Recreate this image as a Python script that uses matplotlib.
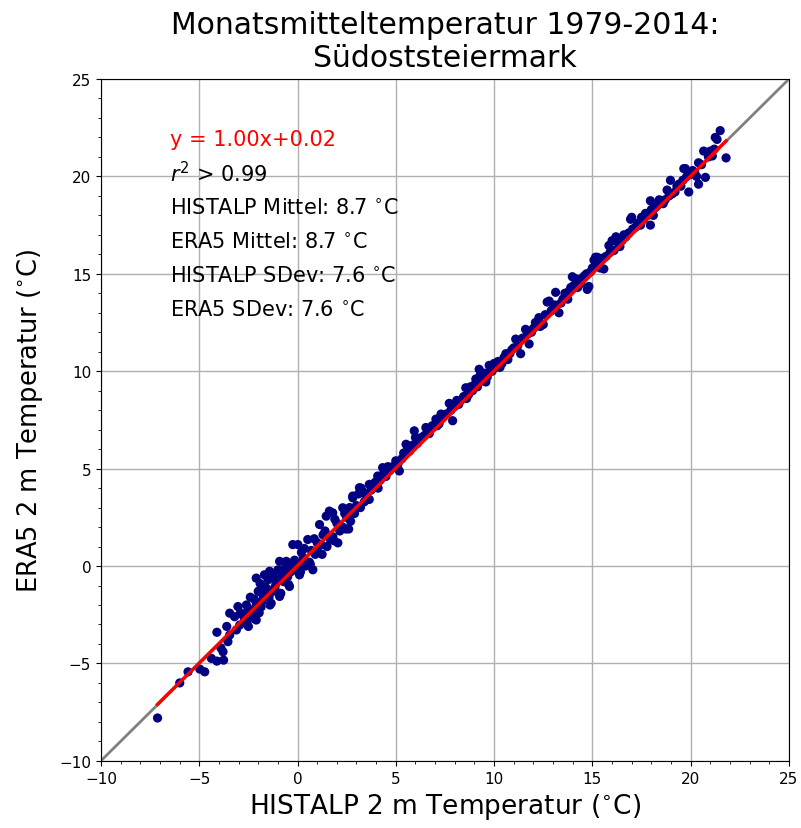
import numpy as np
import matplotlib
matplotlib.use("Agg")
import matplotlib.pyplot as plt
from matplotlib.ticker import MultipleLocator

# HISTALP (x) vs ERA5 (y) monthly mean temperatures
histalp = [
    -7.12, -5.99, -5.57, -4.97, -4.72, -4.38, -4.10, -3.79, -3.76, -4.10,
    -3.54, -3.45, -3.45, -3.11, -3.03, -2.94, -2.78, -2.60, -2.27, -2.10,
    -2.10, -1.76, -1.59, -1.34, -1.25, -0.91, -2.10, -1.68, -1.42, -0.91,
    -0.57, -0.41, 0.10, -0.24, 0.02, 0.52, -1.90, -1.50, -1.20, -1.00,
    -0.80, -0.60, -0.30, -0.10, -2.40, -2.60, -2.30, -1.80, -1.60, -1.10,
    -0.70, 0.30, 0.40, 0.70, 0.78, 0.90, 1.12, 1.00, 1.30, 1.46,
    1.50, 1.62, 1.79, 1.80, 2.05, 2.00, 2.30, 2.30, 2.50, 2.60,
    2.81, 2.81, 2.90, 3.15, 3.20, 3.23, 3.40, 3.65, 3.65, 3.80,
    4.08, 4.20, 4.33, 4.50, 4.70, 5.00, 5.18, 5.30, 5.52, 5.70,
    5.94, 6.10, 6.30, 6.53, 6.70, 7.04, 7.20, 7.40, 7.72, 7.89,
    8.00, 8.30, 8.56, 8.70, 8.90, 9.07, 9.24, 9.40, 9.58, 9.75,
    9.90, 10.10, 10.30, 10.50, 10.70, 10.90, 11.10, 11.35, 11.60, 11.78,
    12.00, 12.28, 12.50, 12.70, 12.80, 13.00, 13.13, 13.30, 13.50, 13.80,
    13.98, 14.15, 14.40, 14.60, 14.74, 14.82, 15.08, 15.16, 15.25, 15.40,
    15.58, 15.84, 16.00, 16.20, 16.40, 16.60, 16.94, 17.00, 17.20, 17.50,
    17.70, 17.95, 17.95, 18.20, 18.40, 18.60, 18.80, 18.97, 19.20, 19.40,
    19.65, 19.73, 19.90, 20.10, 20.40, 20.40, 20.66, 20.75, 21.10, 21.25,
    21.34, 21.50, 21.80,
    -3.90, -3.60, -3.20, -2.90, -2.70, -2.50, -2.20, -2.00, -1.85, -1.70,
    -1.45, -1.30, -1.15, -0.95, -0.75, -0.50, -0.35, -0.15, 0.05, 0.20,
    0.35, 0.60, 0.85, 1.05, 1.20, 1.40, 1.65, 1.90, 2.15, 2.40,
    2.65, 2.70, 3.00, 3.10, 3.35, 3.50, 3.75, 3.95, 4.10, 4.40,
    4.60, 4.85, 5.10, 5.40, 5.60, 5.85, 6.00, 6.20, 6.45, 6.60,
    6.85, 7.10, 7.30, 7.55, 7.80, 8.10, 8.20, 8.45, 8.60, 8.80,
    9.00, 9.15, 9.30, 9.50, 9.65, 9.85, 10.00, 10.20, 10.40, 10.60,
    10.80, 11.00, 11.20, 11.45, 11.70, 11.90, 12.10, 12.35, 12.60, 12.90,
    13.10, 13.40, 13.60, 13.75, 13.90, 14.05, 14.25, 14.50, 14.70, 14.90,
    15.00, 15.20, 15.35, 15.50, 15.70, 15.90, 16.10, 16.30, 16.50, 16.70,
    16.85, 17.05, 17.30, 17.45, 17.60, 17.80, 18.00, 18.10, 18.30, 18.50,
    18.70, 18.90, 19.05, 19.30, 19.50, 19.60, 19.80, 20.00, 20.20, 20.30,
    20.55, 20.90, 21.00, 21.20,
    -2.50, -1.95, -1.40, -0.85, -0.45, 0.15, 0.65, 1.25, 1.85, 2.45,
]
era5 = [
    -7.80, -6.00, -5.43, -5.29, -5.43, -4.74, -4.88, -4.40, -4.83, -3.40,
    -3.88, -3.54, -2.42, -3.28, -2.08, -3.03, -2.51, -2.85, -2.68, -2.77,
    -2.00, -1.48, -1.13, -1.91, -1.30, -1.56, -0.62, -0.45, -0.27, 0.24,
    0.24, -1.05, -0.45, 1.10, 1.10, 1.36, -0.90, -0.70, -0.60, -0.20,
    -0.50, -0.10, 0.10, -0.20, -1.60, -2.00, -2.30, -1.80, -1.50, -0.90,
    -0.80, 0.40, 0.00, 0.80, -0.19, 0.60, 2.13, 1.20, 1.60, 2.56,
    1.00, 2.82, 2.73, 1.50, 1.19, 2.20, 2.99, 2.00, 2.50, 1.90,
    3.50, 3.59, 2.70, 4.02, 3.00, 4.00, 3.30, 4.19, 3.42, 4.00,
    4.62, 4.40, 5.05, 4.60, 4.90, 5.40, 4.88, 5.50, 6.25, 5.90,
    6.94, 6.30, 6.60, 7.11, 6.80, 7.54, 7.30, 7.70, 8.35, 7.46,
    8.20, 8.50, 9.15, 8.80, 9.00, 9.60, 10.10, 9.50, 9.45, 10.30,
    10.00, 10.20, 10.20, 10.70, 10.60, 11.10, 11.65, 10.90, 12.15, 11.40,
    12.20, 12.75, 12.40, 13.55, 13.60, 13.20, 14.05, 13.00, 13.70, 14.10,
    14.85, 14.75, 14.50, 14.90, 14.20, 14.35, 15.70, 15.85, 15.85, 15.30,
    15.25, 16.45, 16.70, 16.90, 16.40, 17.00, 17.80, 17.90, 17.40, 17.90,
    18.10, 18.75, 17.50, 18.40, 18.80, 18.60, 19.30, 19.80, 19.20, 19.60,
    20.40, 20.40, 19.20, 20.30, 20.70, 19.60, 21.30, 19.95, 21.05, 22.00,
    21.90, 22.35, 20.95,
    -4.20, -3.10, -2.60, -2.40, -2.70, -2.20, -1.70, -1.30, -2.10, -1.10,
    -1.60, -0.40, -1.10, -0.70, -0.20, -0.55, -0.30, 0.30, 0.10, 0.70,
    0.90, 0.20, 1.40, 0.70, 1.10, 1.80, 1.40, 2.40, 1.80, 2.70,
    3.00, 2.30, 3.10, 3.70, 3.80, 3.60, 3.90, 4.30, 4.00, 4.80,
    5.10, 5.10, 5.20, 5.80, 6.10, 6.20, 6.60, 6.50, 6.70, 7.00,
    7.20, 7.20, 7.80, 7.80, 8.00, 8.50, 8.30, 8.70, 8.60, 9.20,
    9.30, 9.20, 9.80, 9.90, 9.70, 10.10, 10.40, 10.50, 10.40, 10.90,
    10.90, 11.20, 11.30, 11.70, 11.90, 12.00, 12.50, 12.30, 12.90, 13.10,
    13.40, 13.50, 14.00, 13.70, 14.30, 14.40, 14.30, 14.80, 15.00, 15.10,
    15.30, 15.40, 15.60, 15.80, 15.90, 16.10, 16.20, 16.60, 16.70, 16.90,
    17.10, 17.30, 17.60, 17.50, 17.80, 18.00, 18.30, 18.00, 18.50, 18.70,
    18.80, 19.00, 19.10, 19.50, 19.50, 19.80, 20.00, 20.10, 20.20, 20.00,
    20.60, 21.00, 21.30, 21.40,
    -3.10, -2.40, -2.00, -1.40, -0.95, -0.30, 0.10, 0.60, 1.30, 1.90,
]

fit_slope = 1.00
fit_intercept = 0.02
stats_lines = [
    r"$r^2$ > 0.99",
    r"HISTALP Mittel: 8.7 $^{\circ}$C",
    r"ERA5 Mittel: 8.7 $^{\circ}$C",
    r"HISTALP SDev: 7.6 $^{\circ}$C",
    r"ERA5 SDev: 7.6 $^{\circ}$C",
]
fit_label = "y = 1.00x+0.02"
axis_limits = [-10, 25]

x = np.array(histalp)
y = np.array(era5)

fig = plt.figure(figsize=(8.01, 8.29), dpi=100)
ax = fig.add_axes([0.126, 0.081, 0.859, 0.8225])

ax.plot(axis_limits, axis_limits, color="grey", lw=2, zorder=1)
ax.scatter(x, y, s=44, color="navy", edgecolors="none", zorder=2)
xf = np.array([x.min(), x.max()])
ax.plot(xf, fit_slope * xf + fit_intercept, color="red", lw=2.5, zorder=3)

ax.set_xlim(axis_limits)
ax.set_ylim(axis_limits)
ax.xaxis.set_major_locator(MultipleLocator(5))
ax.yaxis.set_major_locator(MultipleLocator(5))
ax.xaxis.set_minor_locator(MultipleLocator(1))
ax.yaxis.set_minor_locator(MultipleLocator(1))
ax.grid(True, which="major", color="#b0b0b0", lw=1)
ax.set_axisbelow(True)
ax.tick_params(labelsize=11)

ax.set_xlabel(r"HISTALP 2 m Temperatur ($^{\circ}$C)", fontsize=19)
ax.set_ylabel(r"ERA5 2 m Temperatur ($^{\circ}$C)", fontsize=18.5, labelpad=10)
ax.set_title("Monatsmitteltemperatur 1979-2014:\nSüdoststeiermark", fontsize=21.5,
             pad=9)

ax.text(0.1, 0.912, fit_label, transform=ax.transAxes, color="red",
        fontsize=15, va="center")
for i, line in enumerate(stats_lines):
    ax.text(0.1, 0.912 - (i + 1) * 0.0499, line, transform=ax.transAxes,
            color="black", fontsize=15, va="center")

fig.savefig("out.png", dpi=100)
